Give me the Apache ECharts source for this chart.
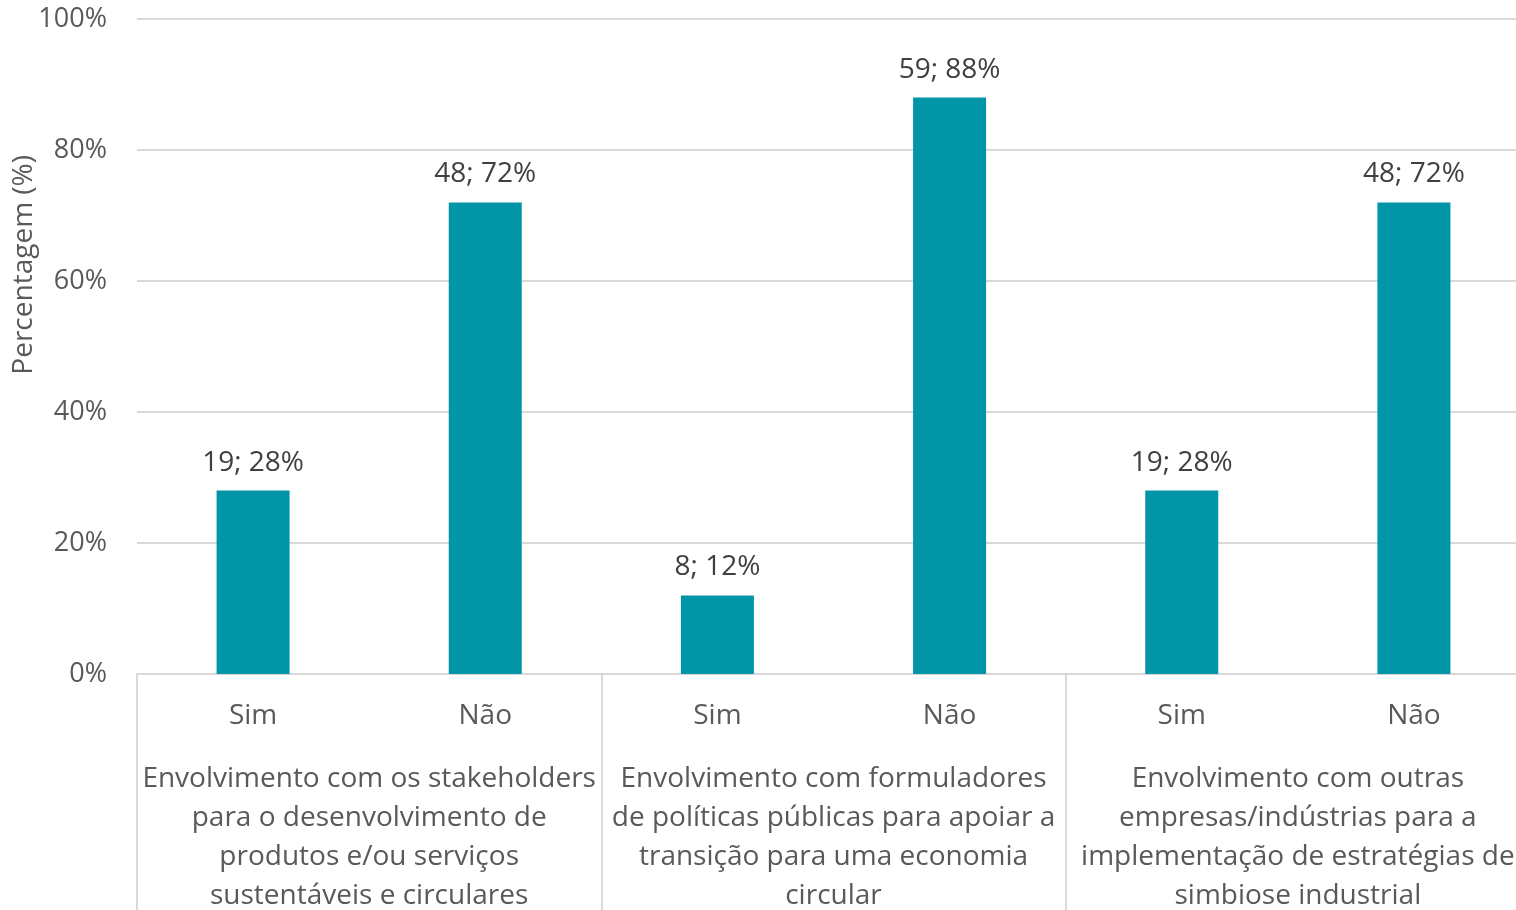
<!DOCTYPE html>
<html>
<head>
    <meta charset="UTF-8">
    <title>Envolvimento</title>
    <script src="https://cdn.jsdelivr.net/npm/echarts@6/dist/echarts.min.js"></script>
    <style>
        html, body { margin: 0; padding: 0; background: #fff; overflow: hidden; }
        #chart { width: 1516px; height: 910px; }
    </style>
</head>
<body>
<div id="chart"></div>
<script>
    // dados
    var answers = ['Sim', 'Não', 'Sim', 'Não', 'Sim', 'Não'];
    var groups = [
        'Envolvimento com os stakeholders\npara o desenvolvimento de\nprodutos e/ou serviços\nsustentáveis e circulares',
        'Envolvimento com formuladores\nde políticas públicas para apoiar a\ntransição para uma economia\ncircular',
        'Envolvimento com outras\nempresas/indústrias para a\nimplementação de estratégias de\nsimbiose industrial'
    ];
    var counts = [19, 48, 8, 59, 19, 48];
    var percents = [28, 72, 12, 88, 28, 72];
    var yTicks = [0, 20, 40, 60, 80, 100];

    var font = '"Open Sans", "Noto Sans", sans-serif';
    var chart = echarts.init(document.getElementById('chart'));

    var option = {
        animation: false,
        // o gráfico original corta a área de plotagem à direita
        grid: {left: 137, right: -14, top: 19, bottom: 236, outerBoundsMode: 'none', containLabel: false},
        graphic: [{
            type: 'text',
            left: 10,
            top: 155,
            rotation: Math.PI / 2,
            style: {
                text: 'Percentagem (%)',
                font: '28px ' + font,
                fill: '#595959'
            }
        }],
        xAxis: [{
            type: 'category',
            data: answers,
            axisLine: {lineStyle: {color: '#D9D9D9', width: 2}},
            axisTick: {show: false},
            axisLabel: {color: '#595959', fontSize: 28, fontFamily: font, margin: 28, interval: 0}
        }, {
            type: 'category',
            data: groups,
            position: 'bottom',
            axisLine: {show: false},
            axisTick: {show: true, interval: 0, length: 240, lineStyle: {color: '#D9D9D9', width: 2}},
            axisLabel: {color: '#595959', fontSize: 28, fontFamily: font, margin: 86, lineHeight: 39, interval: 0}
        }],
        yAxis: {
            type: 'value',
            min: yTicks[0],
            max: yTicks[yTicks.length - 1],
            interval: 20,
            axisLine: {show: false},
            axisTick: {show: false},
            splitLine: {lineStyle: {color: '#D9D9D9', width: 2}},
            axisLabel: {
                formatter: '{value}%',
                color: '#595959',
                fontSize: 27,
                fontFamily: font,
                margin: 30
            }
        },
        series: [{
            type: 'bar',
            xAxisIndex: 0,
            data: percents,
            barWidth: 73,
            itemStyle: {color: '#0096A8'},
            label: {
                show: true,
                position: 'top',
                distance: 14,
                color: '#404040',
                fontSize: 28,
                fontFamily: font,
                formatter: function (p) {
                    return counts[p.dataIndex] + '; ' + percents[p.dataIndex] + '%';
                }
            }
        }]
    };
    chart.setOption(option);
</script>
</body>
</html>
